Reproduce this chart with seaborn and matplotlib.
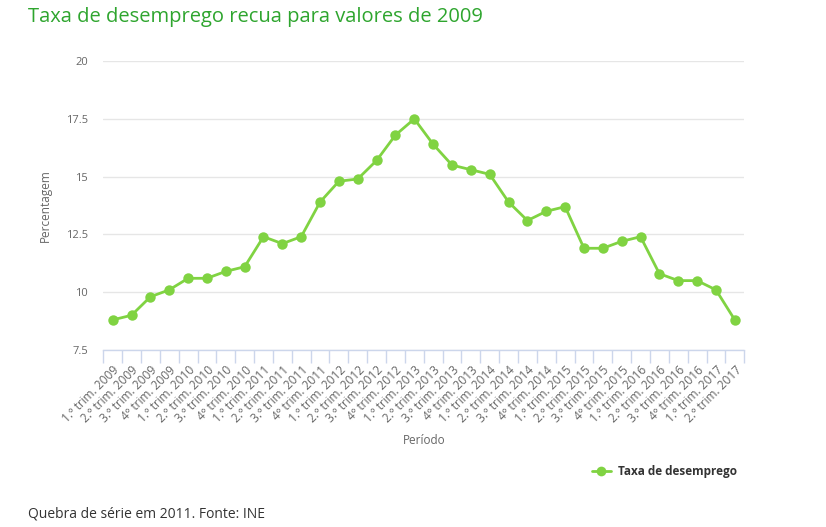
import numpy as np
import pandas as pd
import seaborn as sns
import matplotlib.pyplot as plt
from matplotlib.ticker import FixedLocator
from matplotlib.lines import Line2D

sns.set_style("white")
plt.rcParams['font.family'] = ['Open Sans', 'DejaVu Sans']

# quarterly unemployment rate (%), Portugal
years = [2009] * 4 + [y for y in range(2010, 2017) for _ in range(4)] + [2017] * 2
quarters = [1, 2, 3, 4] * 8 + [1, 2]
rate = [8.8, 9.0, 9.8, 10.1,
        10.6, 10.6, 10.9, 11.1,
        12.4, 12.1, 12.4, 13.9,
        14.8, 14.9, 15.7, 16.8,
        17.5, 16.4, 15.5, 15.3,
        15.1, 13.9, 13.1, 13.5,
        13.7, 11.9, 11.9, 12.2,
        12.4, 10.8, 10.5, 10.5,
        10.1, 8.8]


def quarter_label(q, y):
    if q == 4:
        return "4º trim. {}".format(y)
    return "{}.º trim. {}".format(q, y)


labels = [quarter_label(q, y) for q, y in zip(quarters, years)]
yticks = [7.5, 10, 12.5, 15, 17.5, 20]
ytick_labels = ["7.5", "10", "12.5", "15", "17.5", "20"]

df = pd.DataFrame({'idx': np.arange(len(rate)), 'rate': rate})

GREEN = '#80d342'
fig = plt.figure(figsize=(8.26, 5.27), dpi=100)
ax = fig.add_axes([0.125, 0.336, 0.776, 0.548])

sns.lineplot(data=df, x='idx', y='rate', ax=ax, color=GREEN, linewidth=2,
             marker='o', markersize=7.5, markeredgewidth=0, markeredgecolor=GREEN)

ax.set_xlim(-0.5, len(rate) - 0.5)
ax.set_ylim(7.5, 20)
ax.set_yticks(yticks)
ax.set_yticklabels(ytick_labels, color='#666666', fontsize=8)
ax.yaxis.grid(True, color='#e6e6e6', linewidth=1)
ax.set_axisbelow(True)

ax.set_xticks(np.arange(len(rate)))
ax.set_xticklabels(labels, rotation=45, ha='right', rotation_mode='anchor',
                   fontsize=8.6, color='#666666')
ax.xaxis.set_minor_locator(FixedLocator(np.arange(-0.5, len(rate), 1)))
ax.tick_params(axis='x', which='major', length=0, pad=10)
ax.tick_params(axis='x', which='minor', length=9, color='#ccd6eb', width=1, bottom=True)
ax.tick_params(axis='y', length=0, pad=11)

for s in ['top', 'right', 'left']:
    ax.spines[s].set_visible(False)
ax.spines['bottom'].set_color('#ccd6eb')
ax.spines['bottom'].set_linewidth(1)

ax.set_xlabel('Período', color='#666666', fontsize=8.5, labelpad=6)
ax.set_ylabel('Percentagem', color='#666666', fontsize=8.5, labelpad=10)

handle = Line2D([], [], color=GREEN, linewidth=2, marker='o', markersize=7,
                markeredgewidth=0)
fig.legend([handle], ['Taxa de desemprego'], loc='center right',
           bbox_to_anchor=(0.905, 0.106), frameon=False,
           prop={'weight': 'bold', 'size': 8.5}, handlelength=1.6,
           handletextpad=0.6, labelcolor='#333333')

fig.text(0.034, 0.967, 'Taxa de desemprego recua para valores de 2009',
         color='#2ea52e', fontsize=14.5, va='center', ha='left')
fig.text(0.034, 0.024, 'Quebra de série em 2011. Fonte: INE',
         color='#333333', fontsize=10, va='center', ha='left')

fig.savefig('out.png', dpi=100, facecolor='white')
